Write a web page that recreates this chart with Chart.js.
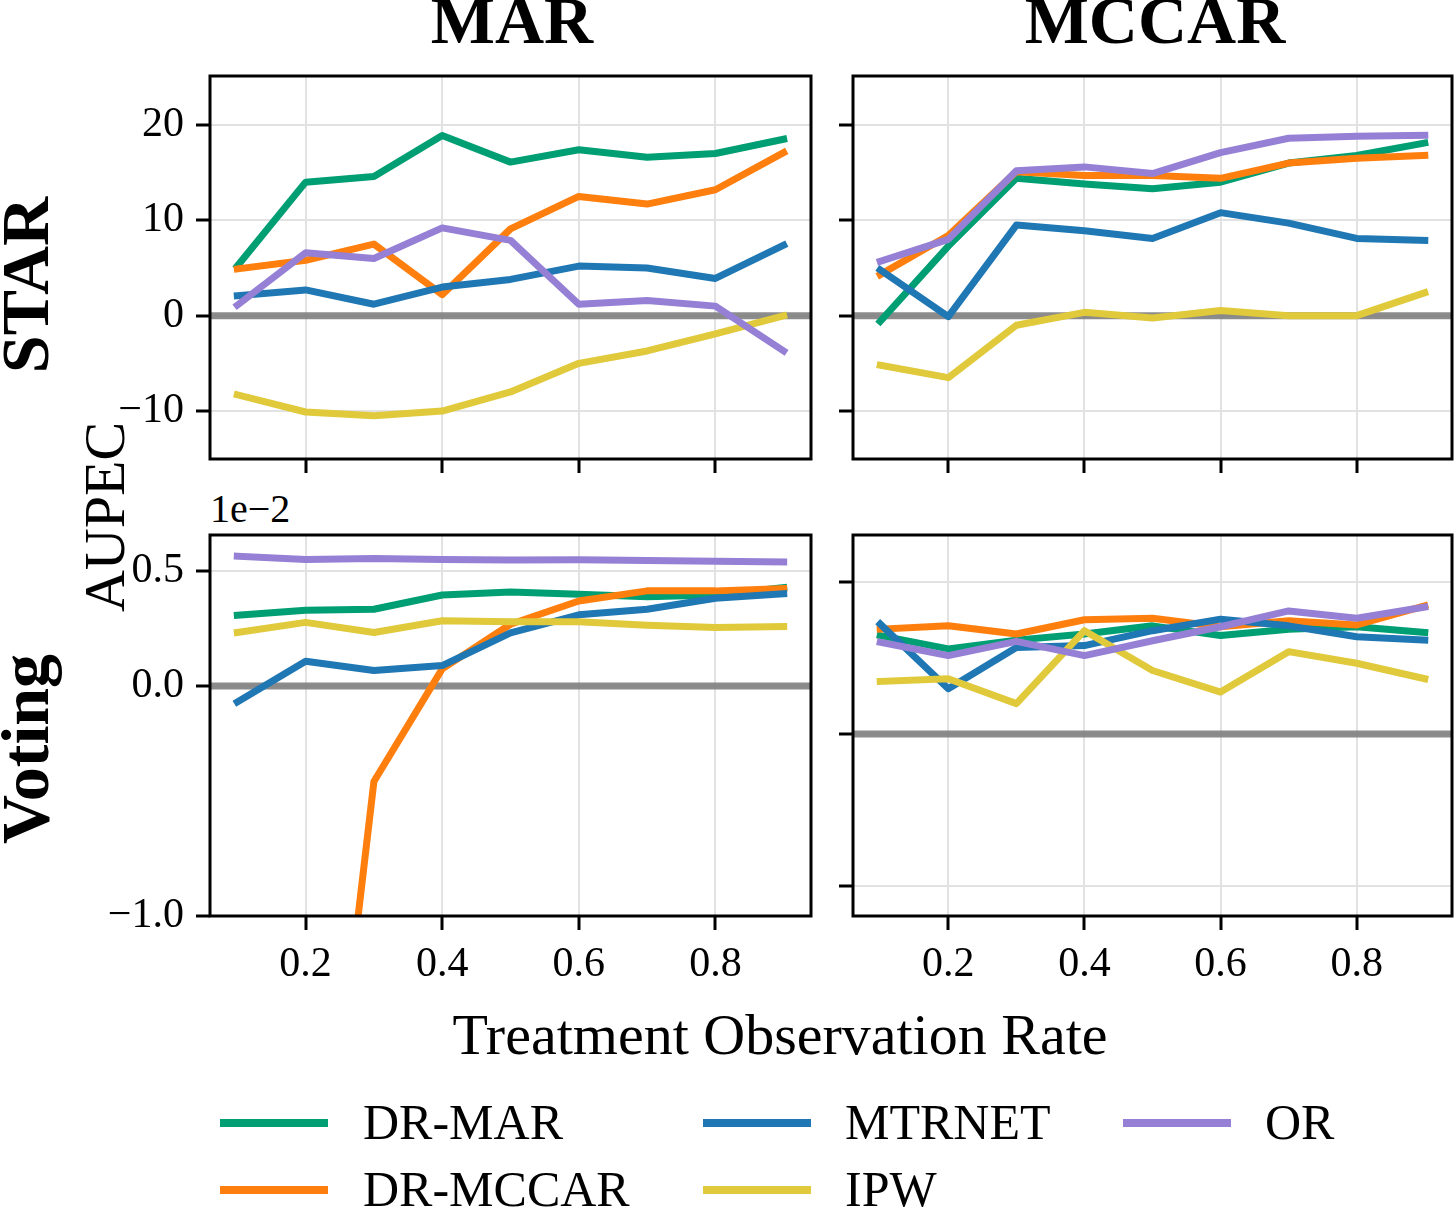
<!DOCTYPE html>
<html>
<head>
<meta charset="utf-8">
<script src="https://cdn.jsdelivr.net/npm/chart.js@4.4.1/dist/chart.umd.min.js"></script>
<style>
  html, body { margin: 0; padding: 0; background: #fff; }
  #fig { position: relative; width: 1455px; height: 1209px; overflow: hidden;
         font-family: "Liberation Serif", "DejaVu Serif", serif; color: #000; }
  #fig canvas { position: absolute; }
  .txt { position: absolute; line-height: 1; white-space: nowrap; }
  .rot { transform: translate(-50%, -50%) rotate(-90deg); }
  .swatch { position: absolute; height: 8px; }
</style>
</head>
<body>
<div id="fig">
  <div class="txt" style="left:512px; top:-14px; font-size:68px; font-weight:bold; transform:translateX(-50%);">MAR</div>
  <div class="txt" style="left:1155px; top:-14px; font-size:68px; font-weight:bold; transform:translateX(-50%);">MCCAR</div>
  <div class="txt rot" style="left:25px; top:285px; font-size:68px; font-weight:bold;">STAR</div>
  <div class="txt rot" style="left:25px; top:749px; font-size:68px; font-weight:bold;">Voting</div>
  <div class="txt rot" style="left:105px; top:517px; font-size:58px;">AUPEC</div>
  <div class="txt" style="left:210px; top:489px; font-size:40px;">1e−2</div>
  <div class="txt" style="left:780px; top:1006px; font-size:58px; transform:translateX(-50%);">Treatment Observation Rate</div>
  <div id="legend"></div>
  <canvas id="c-star-mar"></canvas>
  <canvas id="c-star-mccar"></canvas>
  <canvas id="c-vote-mar"></canvas>
  <canvas id="c-vote-mccar"></canvas>
</div>
<script>
// ===== データ =====
const rates = [0.1, 0.2, 0.3, 0.4, 0.5, 0.6, 0.7, 0.8, 0.9];
const methods = ['DR-MAR', 'DR-MCCAR', 'MTRNET', 'IPW', 'OR'];
const methodColors = ['#009e73', '#ff7f0e', '#1f77b4', '#e0c93a', '#9580d5'];

// rows follow the order of `methods`
const starMAR = [
    [5.2, 14.0, 14.6, 18.9, 16.1, 17.4, 16.6, 17.0, 18.5],
    [4.9, 5.8, 7.5, 2.2, 9.1, 12.5, 11.7, 13.2, 17.1],
    [2.1, 2.7, 1.2, 3.0, 3.8, 5.2, 5.0, 3.9, 7.4],
    [-8.3, -10.1, -10.5, -10.0, -8.0, -5.0, -3.7, -1.9, 0.0],
    [1.1, 6.6, 6.0, 9.2, 7.9, 1.2, 1.6, 1.0, -3.7]
];
const starMCCAR = [
    [-0.6, 7.3, 14.4, 13.8, 13.3, 14.0, 16.0, 16.8, 18.1],
    [4.3, 8.4, 15.1, 14.7, 14.7, 14.4, 16.0, 16.5, 16.8],
    [4.8, -0.1, 9.5, 8.9, 8.1, 10.8, 9.7, 8.1, 7.9],
    [-5.2, -6.5, -1.0, 0.35, -0.25, 0.55, 0.0, 0.0, 2.4],
    [5.7, 8.0, 15.2, 15.6, 14.9, 17.1, 18.6, 18.8, 18.9]
];
// Voting values in units of 1e-2
const votingMAR = [
    [0.308, 0.330, 0.334, 0.396, 0.409, 0.399, 0.388, 0.396, 0.428],
    [-3.5, -2.95, -0.415, 0.075, 0.269, 0.370, 0.414, 0.414, 0.424],
    [-0.069, 0.108, 0.068, 0.089, 0.231, 0.310, 0.334, 0.382, 0.402],
    [0.233, 0.277, 0.233, 0.284, 0.280, 0.280, 0.265, 0.255, 0.259],
    [0.565, 0.550, 0.555, 0.550, 0.548, 0.549, 0.546, 0.543, 0.540]
];
const votingMCCAR = [
    [0.324, 0.280, 0.309, 0.329, 0.356, 0.324, 0.345, 0.353, 0.334],
    [0.345, 0.356, 0.329, 0.376, 0.381, 0.353, 0.373, 0.359, 0.422],
    [0.362, 0.149, 0.285, 0.291, 0.340, 0.378, 0.356, 0.320, 0.309],
    [0.173, 0.182, 0.100, 0.340, 0.209, 0.138, 0.271, 0.233, 0.182],
    [0.302, 0.258, 0.305, 0.258, 0.307, 0.353, 0.405, 0.381, 0.418]
];

const xTicks = [0.2, 0.4, 0.6, 0.8];
const starTicks = [20, 10, 0, -10];
const votingMARTicks = [0.5, 0.0, -1.0];
const votingMCCARTicks = [0.5, 0.0, -0.5];

// ===== レイアウト（各パネルの描画領域） =====
const Y_AXIS_W = 130;
const X_AXIS_H = 80;
const PAD_TOP = 10;

const panels = [
    { id: 'c-star-mar',   rows: starMAR,     box: [210, 76, 811, 459],   yRange: [-15.03, 25.13], yTicks: starTicks,        dec: 0, showY: true,  showX: false, padR: 10 },
    { id: 'c-star-mccar', rows: starMCCAR,   box: [853, 76, 1452, 459],  yRange: [-15.03, 25.13], yTicks: starTicks,        dec: 0, showY: false, showX: false, padR: 3 },
    { id: 'c-vote-mar',   rows: votingMAR,   box: [210, 535, 811, 916],  yRange: [-1.0, 0.657],   yTicks: votingMARTicks,   dec: 1, showY: true,  showX: true,  padR: 10 },
    { id: 'c-vote-mccar', rows: votingMCCAR, box: [853, 535, 1452, 916], yRange: [-0.599, 0.655], yTicks: votingMCCARTicks, dec: 1, showY: false, showX: true,  padR: 3 }
];

function fmt(v, dec) {
    const s = Math.abs(v).toFixed(dec);
    return (v < 0 && Math.abs(v) > 1e-9) ? '\u2212' + s : s;
}

// 枠線（上下左右）
const framePlugin = {
    id: 'frame',
    afterDraw(chart) {
        const a = chart.chartArea;
        const ctx = chart.ctx;
        ctx.save();
        ctx.strokeStyle = '#000';
        ctx.lineWidth = 3;
        ctx.strokeRect(a.left, a.top, a.right - a.left, a.bottom - a.top);
        ctx.restore();
    }
};

// Chart.js reserves room for half a label at the axis ends; the panels are fixed here
function fixAxis(s, size, vertical) {
    if (vertical) s.width = size; else s.height = size;
    s.paddingTop = 0;
    s.paddingBottom = 0;
    s.paddingLeft = 0;
    s.paddingRight = 0;
}

const tickFont = { family: '"Liberation Serif", "DejaVu Serif", serif', size: 42 };

panels.forEach(p => {
    const [L, T, R, B] = p.box;
    const canvas = document.getElementById(p.id);
    canvas.width = (R - L) + Y_AXIS_W + p.padR;
    canvas.height = (B - T) + PAD_TOP + X_AXIS_H;
    canvas.style.left = (L - Y_AXIS_W) + 'px';
    canvas.style.top = (T - PAD_TOP) + 'px';

    const datasets = p.rows.map((vals, i) => ({
        label: methods[i],
        data: rates.map((x, j) => ({ x: x, y: vals[j] })),
        borderColor: methodColors[i],
        borderWidth: 7,
        borderCapStyle: 'square',
        borderJoinStyle: 'round',
        pointRadius: 0,
        tension: 0,
        clip: 0,
        order: methods.length - i
    }));
    // y = 0 reference line (drawn underneath)
    datasets.push({
        label: 'zero',
        data: [{ x: 0.06, y: 0 }, { x: 0.94, y: 0 }],
        borderColor: 'rgba(128,128,128,0.9)',
        borderWidth: 7,
        pointRadius: 0,
        clip: 0,
        order: 99
    });

    new Chart(canvas.getContext('2d'), {
        type: 'line',
        data: { datasets: datasets },
        plugins: [framePlugin],
        options: {
            responsive: false,
            animation: false,
            devicePixelRatio: 1,
            layout: { padding: { top: PAD_TOP, right: p.padR, left: 0, bottom: 0 } },
            plugins: { legend: { display: false }, tooltip: { enabled: false } },
            scales: {
                x: {
                    type: 'linear',
                    min: 0.06,
                    max: 0.94,
                    afterBuildTicks: s => { s.ticks = xTicks.map(v => ({ value: v })); },
                    afterFit: s => fixAxis(s, X_AXIS_H, false),
                    border: { display: false },
                    grid: { color: '#e2e2e2', lineWidth: 2, tickColor: '#000', tickWidth: 3, tickLength: 14 },
                    ticks: {
                        display: p.showX,
                        font: tickFont,
                        color: '#000',
                        padding: 10,
                        maxRotation: 0,
                        callback: v => fmt(v, 1)
                    }
                },
                y: {
                    type: 'linear',
                    min: p.yRange[0],
                    max: p.yRange[1],
                    afterBuildTicks: s => { s.ticks = p.yTicks.map(v => ({ value: v })); },
                    afterFit: s => fixAxis(s, Y_AXIS_W, true),
                    border: { display: false },
                    grid: { color: '#e2e2e2', lineWidth: 2, tickColor: '#000', tickWidth: 3, tickLength: 14 },
                    ticks: {
                        display: p.showY,
                        font: tickFont,
                        color: '#000',
                        padding: 12,
                        callback: v => fmt(v, p.dec)
                    }
                }
            }
        }
    });
});

// ===== 凡例 =====
const legend = document.getElementById('legend');
const legendCols = [[220, 363], [703, 845], [1123, 1265]];
const legendRows = [1123, 1190];
methods.forEach((m, i) => {
    const col = Math.floor(i / 2), row = i % 2;
    const [sx, tx] = legendCols[col];
    const cy = legendRows[row];
    const sw = document.createElement('div');
    sw.className = 'swatch';
    sw.style.cssText = `left:${sx}px; top:${cy - 4}px; width:108px; background:${methodColors[i]};`;
    legend.appendChild(sw);
    const t = document.createElement('div');
    t.className = 'txt';
    t.style.cssText = `left:${tx}px; top:${cy - 26}px; font-size:50px;`;
    t.textContent = m;
    legend.appendChild(t);
});
</script>
</body>
</html>
